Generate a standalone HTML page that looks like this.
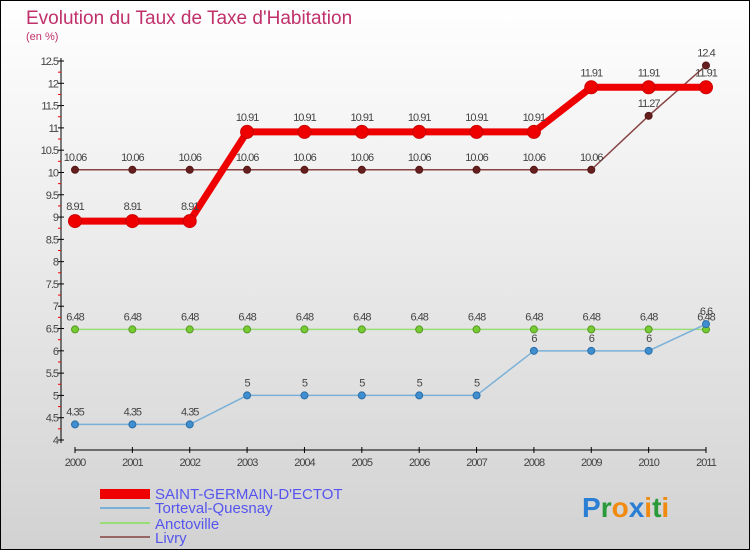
<!DOCTYPE html>
<html><head><meta charset="utf-8"><style>
body{margin:0;}
#c{width:750px;height:550px;position:relative;overflow:hidden;}
text{font-family:"Liberation Sans",sans-serif;}
</style></head><body>
<div id="c">
<svg id="s" width="750" height="550" xmlns="http://www.w3.org/2000/svg">
<defs><linearGradient id="bg" x1="0" y1="0" x2="0" y2="1"><stop offset="0" stop-color="#ffffff"/><stop offset="1" stop-color="#d2d2d2"/></linearGradient></defs>
<rect x="0.5" y="0.5" width="749" height="549" fill="url(#bg)" stroke="#000"/>
<text x="26" y="24" font-size="19" fill="#c0306a">Evolution du Taux de Taxe d'Habitation</text>
<text x="26" y="40" font-size="11" fill="#c0306a">(en %)</text>
<g id="axes"></g><g id="series"></g>
<g>
<rect x="100" y="489" width="50" height="10" fill="#ee0000"/>
<text x="155" y="499" font-size="15" fill="#5555ee">SAINT-GERMAIN-D'ECTOT</text>
<rect x="100" y="507" width="50" height="2" fill="#7ab0d8"/>
<text x="155" y="513" font-size="15" fill="#5555ee">Torteval-Quesnay</text>
<rect x="100" y="522" width="50" height="2" fill="#99dd77"/>
<text x="155" y="529" font-size="15" fill="#5555ee">Anctoville</text>
<rect x="100" y="536" width="50" height="2" fill="#996666"/>
<text x="155" y="543" font-size="15" fill="#5555ee">Livry</text>
</g>
<text x="582" y="517" font-size="28" font-weight="bold"><tspan fill="#2a7fd4">P</tspan><tspan fill="#2a9a3a">r</tspan><tspan fill="#f08a10">o</tspan><tspan fill="#2a7fd4">x</tspan><tspan fill="#f08a10">i</tspan><tspan fill="#2a9a3a">t</tspan><tspan fill="#f08a10">i</tspan></text>
</svg></div>
<script>
const years=[2000,2001,2002,2003,2004,2005,2006,2007,2008,2009,2010,2011];
const saint=[8.91,8.91,8.91,10.91,10.91,10.91,10.91,10.91,10.91,11.91,11.91,11.91];
const torteval=[4.35,4.35,4.35,5,5,5,5,5,6,6,6,6.6];
const anctoville=[6.48,6.48,6.48,6.48,6.48,6.48,6.48,6.48,6.48,6.48,6.48,6.48];
const livry=[10.06,10.06,10.06,10.06,10.06,10.06,10.06,10.06,10.06,10.06,11.27,12.4];
const yTicks=[4,4.5,5,5.5,6,6.5,7,7.5,8,8.5,9,9.5,10,10.5,11,11.5,12,12.5];
const NS="http://www.w3.org/2000/svg";
const X=i=>75+i*(706-75)/11;
const Y=v=>440-(v-4)*(440-61)/8.5;
function mk(tag,attrs,parent,txt){const e=document.createElementNS(NS,tag);for(const k in attrs)e.setAttribute(k,attrs[k]);if(txt!==undefined)e.textContent=txt;parent.appendChild(e);return e;}
const ax=document.getElementById('axes'),sg=document.getElementById('series');
let e=mk('line',{x1:61,y1:58,x2:61,y2:443,stroke:'#000'},ax);


e=mk('line',{x1:75,y1:450,x2:706,y2:450,stroke:'#000'},ax);


yTicks.forEach(v=>{
 mk('line',{x1:58,y1:Y(v),x2:64,y2:Y(v),stroke:'#000'},ax);
 e=mk('text',{x:58,y:Y(v)+4,'font-size':11,fill:'#444','text-anchor':'end','letter-spacing':'-1'},ax,String(v));
 
 
 if(v<12.5)mk('line',{x1:58,y1:Y(v+0.25),x2:61,y2:Y(v+0.25),stroke:'#e00'},ax);
});
years.forEach((y,i)=>{
 mk('line',{x1:X(i),y1:447,x2:X(i),y2:453,stroke:'#000'},ax);
 e=mk('text',{x:X(i),y:466,'font-size':11,fill:'#444','text-anchor':'middle','letter-spacing':'-1'},ax,String(y));
 
 
});
function series(name,vals,color,w,r,dot,stroke){
 const g=mk('g',{},sg);
 
 
 mk('polyline',{points:vals.map((v,i)=>X(i)+','+Y(v)).join(' '),fill:'none',stroke:color,'stroke-width':w},g);
 vals.forEach((v,i)=>{
  const c=mk('circle',{cx:X(i),cy:Y(v),r:r,fill:dot,stroke:stroke,'stroke-width':1},g);
  
  
  const t=mk('text',{x:X(i),y:Y(v)-9-(r>4?2:0),'font-size':11,fill:'#444','text-anchor':'middle','letter-spacing':'-1'},g,String(v));
  
  
 });
}
series('anctoville',anctoville,'#99dd77',1.5,3.5,'#77cc33','#559922');
series('torteval',torteval,'#7ab0d8',1.5,3.5,'#3f8fd0','#2a6ea8');
series('livry',livry,'#884444',1.5,3.5,'#661f1f','#551515');
series('saint-germain',saint,'#ee0000',7,6.5,'#ee0000','#cc0000');
</script>
</body></html>
